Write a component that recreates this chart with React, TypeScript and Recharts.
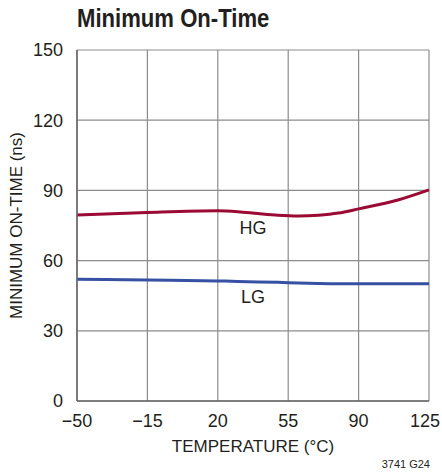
import React from 'react';
import { LineChart, Line, XAxis, YAxis, CartesianGrid, ReferenceDot } from 'recharts';

const temps = [-50, -15, 20, 30, 40, 50, 60, 70, 80, 90, 110, 125];
const hgValues = [79.5, 80.6, 81.3, 80.9, 80.1, 79.4, 79.1, 79.4, 80.3, 82.1, 86.0, 90.2];
const lgValues = [52.0, 51.7, 51.3, 51.1, 50.9, 50.7, 50.4, 50.2, 50.1, 50.1, 50.1, 50.1];

const xTicks = [-50, -15, 20, 55, 90, 125];
const yTicks = [0, 30, 60, 90, 120, 150];

const data = temps.map((t, i) => ({ t, hg: hgValues[i], lg: lgValues[i] }));

const FONT = '"Liberation Sans Narrow", "Arial Narrow", "Liberation Sans", sans-serif';
const minus = (v: number) => String(v).replace('-', '\u2212');

// x tick: the last label sits a little left so it stays on the page
const XTick = (props: any) => {
  const { x, y, payload } = props;
  const last = payload.value === xTicks[xTicks.length - 1];
  return (
    <text x={last ? x - 4 : x} y={y} dy={14} textAnchor="middle" fill="#231f20" fontSize={18} fontFamily={FONT}>
      {minus(payload.value)}
    </text>
  );
};

export default function App() {
  return (
    <div style={{ position: 'absolute', left: 0, top: 0, width: 442, height: 474, background: '#fff', fontFamily: FONT }}>
      <div
        style={{
          position: 'absolute', left: 77, top: 3, fontSize: 26, fontWeight: 'bold', color: '#231f20',
          fontFamily: FONT, transform: 'scaleX(0.85)', transformOrigin: 'left top', whiteSpace: 'nowrap',
        }}
      >
        Minimum On-Time
      </div>
      <div style={{ position: 'absolute', right: 12, top: 458, fontSize: 11, color: '#231f20', fontFamily: FONT }}>
        3741 G24
      </div>
      <LineChart width={442} height={474} data={data} margin={{ top: 50, right: 13, bottom: 0, left: 0 }}>
        <CartesianGrid stroke="#8c8c8c" strokeWidth={1.2} />
        <XAxis
          dataKey="t"
          type="number"
          domain={[-50, 125]}
          ticks={xTicks}
          height={73}
          axisLine={{ stroke: '#666', strokeWidth: 1.5 }}
          tickLine={false}
          tickMargin={6}
          tick={<XTick />}
          label={{ value: 'TEMPERATURE (\u00B0C)', position: 'insideBottom', offset: 22, fill: '#231f20', fontSize: 17, fontFamily: FONT }}
        />
        <YAxis
          type="number"
          domain={[0, 150]}
          ticks={yTicks}
          width={77}
          axisLine={{ stroke: '#666', strokeWidth: 1.5 }}
          tickLine={false}
          tickMargin={8}
          tick={{ fill: '#231f20', fontSize: 18, fontFamily: FONT }}
          label={{ value: 'MINIMUM ON-TIME (ns)', angle: -90, position: 'insideLeft', offset: 16, fill: '#231f20', fontSize: 17, fontFamily: FONT, style: { textAnchor: 'middle' } }}
        />
        <Line type="monotone" dataKey="hg" stroke="#9a0a35" strokeWidth={3} dot={false} isAnimationActive={false} />
        <Line type="monotone" dataKey="lg" stroke="#3651a3" strokeWidth={3} dot={false} isAnimationActive={false} />
        <ReferenceDot x={37.5} y={73.9} r={0} fill="none" stroke="none"
          label={{ value: 'HG', position: 'center', fill: '#231f20', fontSize: 18, fontFamily: FONT }} />
        <ReferenceDot x={37.5} y={44.4} r={0} fill="none" stroke="none"
          label={{ value: 'LG', position: 'center', fill: '#231f20', fontSize: 18, fontFamily: FONT }} />
      </LineChart>
    </div>
  );
}
